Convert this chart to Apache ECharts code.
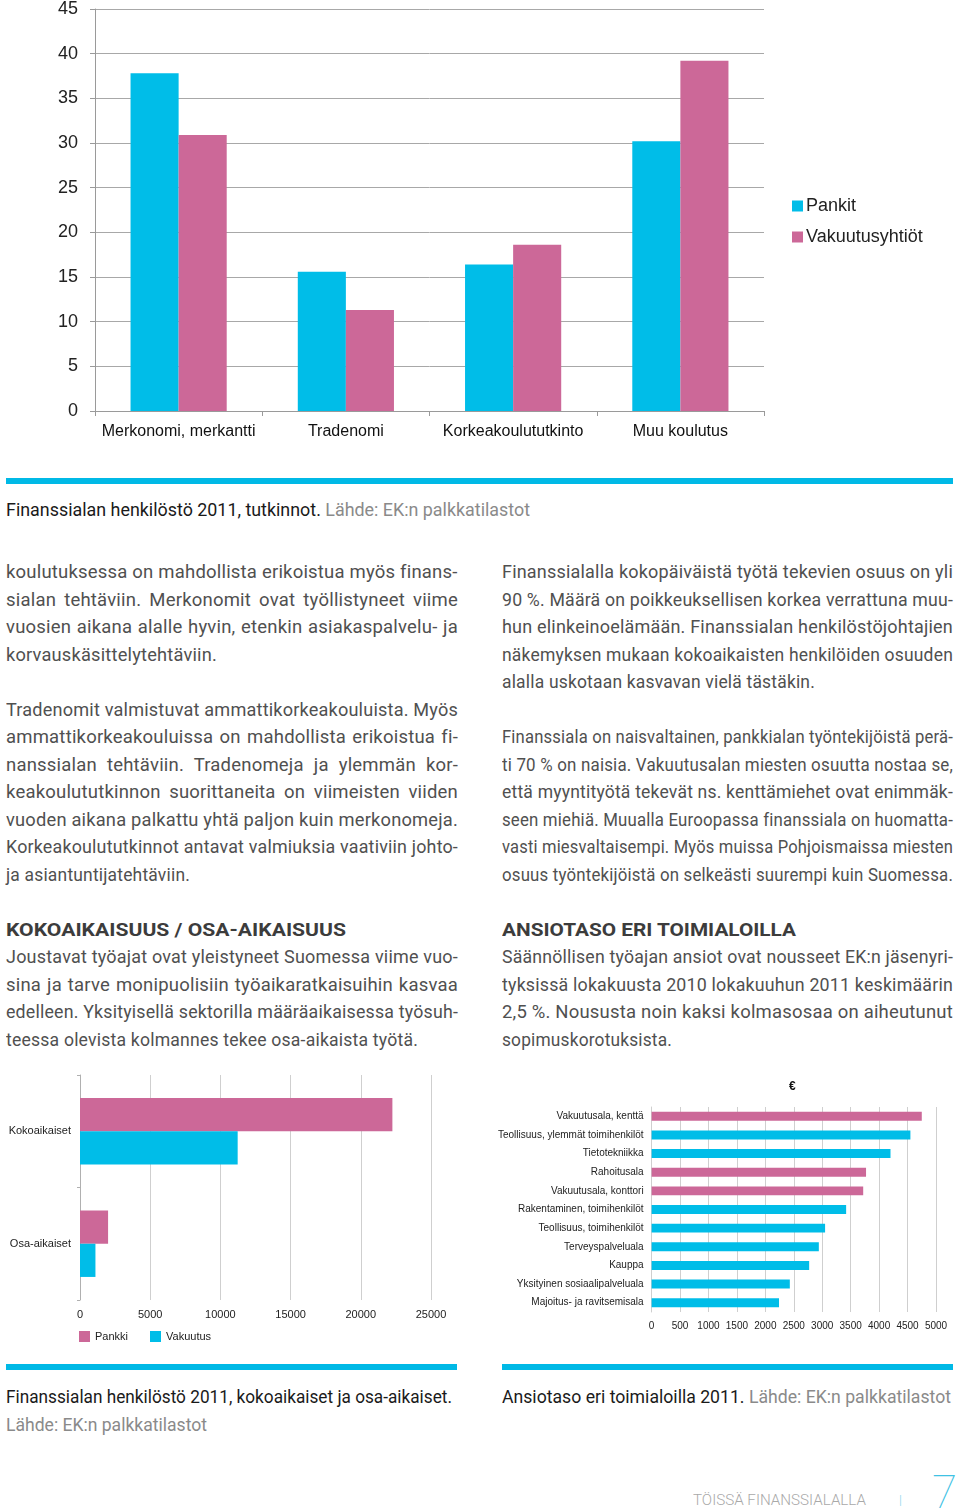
<!DOCTYPE html>
<html>
<head>
<meta charset="utf-8">
<script src="https://cdn.jsdelivr.net/npm/echarts@6/dist/echarts.min.js"></script>
<style>
  html, body { margin: 0; padding: 0; background: #fff; }
  #page { position: relative; width: 960px; height: 1511px; overflow: hidden; background: #fff; }
  .chart { position: absolute; }
  .bar { position: absolute; background: #00B9E6; }
  .ln { position: absolute; white-space: nowrap; line-height: 20px; }
  .body { font-family: Roboto, "Noto Sans", sans-serif; font-size: 18.5px; letter-spacing: 0.2px; color: #505050; }
  .cap { font-family: Roboto, "Noto Sans", sans-serif; font-size: 18px; color: #1a1a1a; }
  .gray { color: #8a8a8a; }
  .head { font-family: Roboto, "Noto Sans", sans-serif; font-weight: 700; font-size: 19px; color: #3c3c3c; }
</style>
</head>
<body>
<div id="page">
  <div id="c1" class="chart" style="left:0;top:0;width:960px;height:460px;"></div>
  <div id="c2" class="chart" style="left:0;top:1070px;width:470px;height:280px;"></div>
  <div id="c3" class="chart" style="left:495px;top:1070px;width:465px;height:280px;"></div>
  <div class="bar" style="left:6px;top:478px;width:947px;height:6px;"></div>
  <div class="bar" style="left:6px;top:1364px;width:451px;height:6px;"></div>
  <div class="bar" style="left:502px;top:1364px;width:451px;height:6px;"></div>
  <div id="texts"></div>
</div>
<script>
// ---------- DATA ----------
const eduCategories = ['Merkonomi, merkantti', 'Tradenomi', 'Korkeakoulututkinto', 'Muu koulutus'];
const eduSeriesNames = ['Pankit', 'Vakuutusyhtiöt'];
const pankitValues = [37.8, 15.6, 16.4, 30.2];
const vakuutusyhtiotValues = [30.9, 11.3, 18.6, 39.2];
const eduAxisMax = 45;
const eduAxisStep = 5;

const workCategories = ['Kokoaikaiset', 'Osa-aikaiset'];
const workSeriesNames = ['Pankki', 'Vakuutus'];
const pankkiWork = [22250, 2000];
const vakuutusWork = [11230, 1100];
const workAxisMax = 25000;
const workAxisStep = 5000;

const industries = ['Vakuutusala, kenttä', 'Teollisuus, ylemmät toimihenkilöt', 'Tietotekniikka', 'Rahoitusala',
  'Vakuutusala, konttori', 'Rakentaminen, toimihenkilöt', 'Teollisuus, toimihenkilöt', 'Terveyspalveluala',
  'Kauppa', 'Yksityinen sosiaalipalveluala', 'Majoitus- ja ravitsemisala'];
const earnings = [4750, 4550, 4200, 3770, 3720, 3420, 3050, 2940, 2770, 2430, 2240];
const financeIndustries = ['Vakuutusala, kenttä', 'Rahoitusala', 'Vakuutusala, konttori'];
const earningsAxisMax = 5000;
const earningsAxisStep = 500;

// ---------- STYLE ----------
const BLUE = '#00BDE8';
const PINK = '#CC6898';
const AX = '#9a9a9a';
const FONT = '"Liberation Sans", Arial, sans-serif';
const plain = v => String(v);

// ---------- CHART 1 ----------
const c1 = echarts.init(document.getElementById('c1'));
c1.setOption({
  animation: false,
  grid: { left: 95, right: 196, top: 6, bottom: 49 },
  legend: {
    orient: 'vertical', left: 787, top: 192, itemWidth: 11, itemHeight: 11, itemGap: 13,
    icon: 'rect', textStyle: { fontFamily: FONT, fontSize: 18, color: '#222', padding: [0, 0, 0, -2] },
    data: eduSeriesNames
  },
  xAxis: {
    type: 'category', data: eduCategories,
    axisLine: { lineStyle: { color: AX } },
    axisTick: { show: true, length: 5, lineStyle: { color: AX } },
    axisLabel: { fontFamily: FONT, fontSize: 16, color: '#111', margin: 13, interval: 0 }
  },
  yAxis: {
    type: 'value', min: 0, max: eduAxisMax, interval: eduAxisStep,
    axisLine: { show: true, lineStyle: { color: AX } },
    axisTick: { show: true, length: 5, lineStyle: { color: AX } },
    splitLine: { lineStyle: { color: '#a8a8a8', width: 1 } },
    axisLabel: { fontFamily: FONT, fontSize: 18, color: '#222', margin: 17, formatter: plain }
  },
  series: [
    { name: eduSeriesNames[0], type: 'bar', data: pankitValues, itemStyle: { color: BLUE }, barGap: '0%', barCategoryGap: '42.5%' },
    { name: eduSeriesNames[1], type: 'bar', data: vakuutusyhtiotValues, itemStyle: { color: PINK }, barGap: '0%', barCategoryGap: '42.5%' }
  ]
});

// ---------- CHART 2 ----------
const c2 = echarts.init(document.getElementById('c2'));
c2.setOption({
  animation: false,
  grid: { left: 80, right: 39, top: 5, bottom: 50 },
  legend: {
    left: 74, top: 256, itemWidth: 11, itemHeight: 11, itemGap: 22, icon: 'rect',
    textStyle: { fontFamily: FONT, fontSize: 11, color: '#222' }, data: workSeriesNames
  },
  xAxis: {
    type: 'value', min: 0, max: workAxisMax, interval: workAxisStep,
    axisLine: { show: false }, axisTick: { show: false },
    splitLine: { lineStyle: { color: '#cfcfcf' } },
    axisLabel: { fontFamily: FONT, fontSize: 11, color: '#222', margin: 9, formatter: plain }
  },
  yAxis: {
    type: 'category', inverse: true, data: workCategories,
    axisLine: { lineStyle: { color: '#b0b0b0' } },
    axisTick: { show: true, length: 3, lineStyle: { color: '#b0b0b0' } },
    axisLabel: { fontFamily: FONT, fontSize: 11, color: '#222', margin: 9 }
  },
  series: [
    { name: workSeriesNames[0], type: 'bar', data: pankkiWork, itemStyle: { color: PINK }, barGap: '0%', barCategoryGap: '41%' },
    { name: workSeriesNames[1], type: 'bar', data: vakuutusWork, itemStyle: { color: BLUE }, barGap: '0%', barCategoryGap: '41%' }
  ]
});

// ---------- CHART 3 ----------
const c3 = echarts.init(document.getElementById('c3'));
c3.setOption({
  animation: false,
  title: { text: '€', left: 289, top: 6, textStyle: { fontFamily: FONT, fontSize: 12, fontWeight: 'bold', color: '#111' } },
  grid: { left: 156, right: 24, top: 37, bottom: 38 },
  xAxis: {
    type: 'value', min: 0, max: earningsAxisMax, interval: earningsAxisStep,
    axisLine: { show: false }, axisTick: { show: false },
    splitLine: { lineStyle: { color: '#cfcfcf' } },
    axisLabel: { fontFamily: FONT, fontSize: 10, color: '#222', margin: 9, formatter: plain }
  },
  yAxis: {
    type: 'category', inverse: true, data: industries,
    axisLine: { show: true, lineStyle: { color: '#cfcfcf' } }, axisTick: { show: false },
    axisLabel: { fontFamily: FONT, fontSize: 10, color: '#222', margin: 8, interval: 0 }
  },
  series: [{
    type: 'bar', data: earnings, barCategoryGap: '52%',
    itemStyle: { color: p => financeIndustries.includes(p.name) ? PINK : BLUE }
  }]
});

// ---------- TEXT ----------
const texts = document.getElementById('texts');
function mk(cls, x, y, html) {
  const d = document.createElement('div');
  d.className = 'ln ' + cls;
  d.style.left = x + 'px';
  d.style.top = (y - 10) + 'px';
  d.innerHTML = html;
  texts.appendChild(d);
  return d;
}
const P = 27.5, Y0 = 572;
const leftLines = [
  [0, 'koulutuksessa on mahdollista erikoistua myös finans-', 452],
  [1, 'sialan tehtäviin. Merkonomit ovat työllistyneet viime', 452],
  [2, 'vuosien aikana alalle hyvin, etenkin asiakaspalvelu- ja', 452],
  [3, 'korvauskäsittelytehtäviin.', 211],
  [5, 'Tradenomit valmistuvat ammattikorkeakouluista. Myös', 452],
  [6, 'ammattikorkeakouluissa on mahdollista erikoistua fi-', 452],
  [7, 'nanssialan tehtäviin. Tradenomeja ja ylemmän kor-', 452],
  [8, 'keakoulututkinnon suorittaneita on viimeisten viiden', 452],
  [9, 'vuoden aikana palkattu yhtä paljon kuin merkonomeja.', 452],
  [10, 'Korkeakoulututkinnot antavat valmiuksia vaativiin johto-', 452],
  [11, 'ja asiantuntijatehtäviin.', 184],
  [14, 'Joustavat työajat ovat yleistyneet Suomessa viime vuo-', 452],
  [15, 'sina ja tarve monipuolisiin työaikaratkaisuihin kasvaa', 452],
  [16, 'edelleen. Yksityisellä sektorilla määräaikaisessa työsuh-', 452],
  [17, 'teessa olevista kolmannes tekee osa-aikaista työtä.', 412]
];
const rightLines = [
  [0, 'Finanssialalla kokopäiväistä työtä tekevien osuus on yli', 451],
  [1, '90 %. Määrä on poikkeuksellisen korkea verrattuna muu-', 451],
  [2, 'hun elinkeinoelämään. Finanssialan henkilöstöjohtajien', 451],
  [3, 'näkemyksen mukaan kokoaikaisten henkilöiden osuuden', 451],
  [4, 'alalla uskotaan kasvavan vielä tästäkin.', 313],
  [6, 'Finanssiala on naisvaltainen, pankkialan työntekijöistä perä-', 451],
  [7, 'ti 70 % on naisia. Vakuutusalan miesten osuutta nostaa se,', 451],
  [8, 'että myyntityötä tekevät ns. kenttämiehet ovat enimmäk-', 451],
  [9, 'seen miehiä. Muualla Euroopassa finanssiala on huomatta-', 451],
  [10, 'vasti miesvaltaisempi. Myös muissa Pohjoismaissa miesten', 451],
  [11, 'osuus työntekijöistä on selkeästi suurempi kuin Suomessa.', 451],
  [14, 'Säännöllisen työajan ansiot ovat nousseet EK:n jäsenyri-', 451],
  [15, 'tyksissä lokakuusta 2010 lokakuuhun 2011 keskimäärin', 451],
  [16, '2,5 %. Noususta noin kaksi kolmasosaa on aiheutunut', 451],
  [17, 'sopimuskorotuksista.', 170]
];

// per-line fit: compress glyphs if too wide, otherwise justify via word spacing
function fitLine(el, t) {
  const w = el.getBoundingClientRect().width;
  el.style.transformOrigin = '0 50%';
  const s = Math.min(1, t / w);
  el.style.transform = 'scaleX(' + s + ')';
  const spaces = (el.textContent.match(/ /g) || []).length;
  const extra = t / s - w;
  if (spaces && extra > 0.5) el.style.wordSpacing = (extra / spaces) + 'px';
}
leftLines.forEach(l => fitLine(mk('body', 6, Y0 + P * l[0], l[1]), l[2]));
rightLines.forEach(l => fitLine(mk('body', 502, Y0 + P * l[0], l[1]), l[2]));

function fitEach(items) {
  items.forEach(([el, t]) => {
    const w = el.getBoundingClientRect().width;
    el.style.transformOrigin = '0 50%';
    el.style.transform = 'scaleX(' + (t / w) + ')';
  });
}

// headings
fitEach([
  [mk('head', 6, Y0 + P * 13, 'KOKOAIKAISUUS / OSA-AIKAISUUS'), 340],
  [mk('head', 502, Y0 + P * 13, 'ANSIOTASO ERI TOIMIALOILLA'), 294]
]);

// captions (condensed)
fitEach([
  [mk('cap', 6, 510, 'Finanssialan henkilöstö 2011, tutkinnot. <span class="gray">Lähde: EK:n palkkatilastot</span>'), 524],
  [mk('cap', 6, 1397, 'Finanssialan henkilöstö 2011, kokoaikaiset ja osa-aikaiset.'), 446],
  [mk('cap', 6, 1425, '<span class="gray">Lähde: EK:n palkkatilastot</span>'), 201],
  [mk('cap', 502, 1397, 'Ansiotaso eri toimialoilla 2011. <span class="gray">Lähde: EK:n palkkatilastot</span>'), 449]
]);

// footer
const f1 = mk('', 693, 1500, 'TÖISSÄ FINANSSIALALLA');
f1.style.fontFamily = 'Roboto, sans-serif'; f1.style.fontWeight = '300'; f1.style.fontSize = '15px'; f1.style.color = '#a9a9a9';
fitEach([[f1, 173]]);
const f2 = mk('', 899, 1500, '|');
f2.style.fontFamily = 'Roboto, sans-serif'; f2.style.fontWeight = '300'; f2.style.fontSize = '13px'; f2.style.color = '#7fd3ea';
const f3 = mk('', 932, 1490, '7');
f3.style.fontFamily = 'Roboto, sans-serif'; f3.style.fontWeight = '100'; f3.style.fontSize = '46px'; f3.style.lineHeight = '40px'; f3.style.top = '1472px'; f3.style.color = '#3fc2e4';
</script>
</body>
</html>
